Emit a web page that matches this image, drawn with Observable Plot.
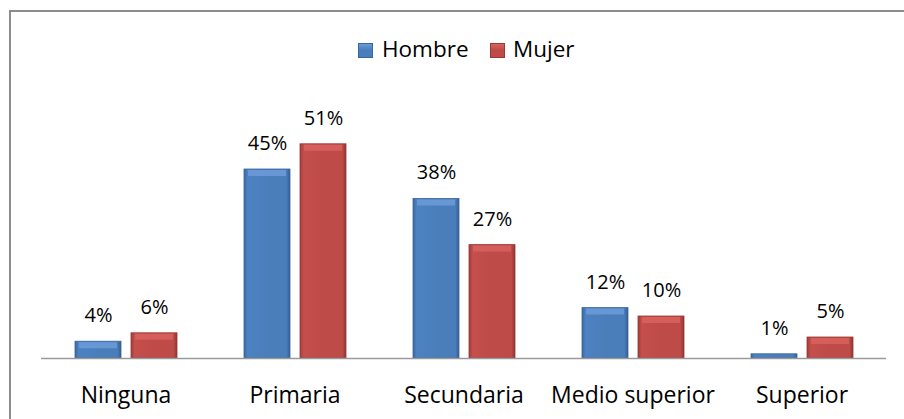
<!DOCTYPE html>
<html><head><meta charset="utf-8">
<script src="https://cdn.jsdelivr.net/npm/d3@7"></script>
<script src="https://cdn.jsdelivr.net/npm/@observablehq/plot@0.6"></script>
<style>
body{margin:0;width:904px;height:419px;overflow:hidden;position:relative;background:#fff;font-family:"Open Sans",sans-serif}
#frame{position:absolute;left:9px;top:10px;width:1000px;height:1000px;border:2px solid #8c8c8c;box-sizing:border-box;pointer-events:none}
#legend{height:65px;position:relative}
.sw{position:absolute;top:43px;width:15px;height:15px;box-sizing:border-box}
.lt{position:absolute;top:34px;font-size:22.5px;line-height:30px;color:#000}
#chart svg{display:block}
</style></head>
<body>
<div id="legend"></div>
<div id="chart"></div>
<div id="frame"></div>
<script>
const categorias = ["Ninguna","Primaria","Secundaria","Medio superior","Superior"];
const series = ["Hombre","Mujer"];
const hombre = [4,45,38,12,1];
const mujer = [6,51,27,10,5];
const colores = ["#4a7ebb","#be4b48"];
const claros = ["#6c9bd9","#d9625e"];

const data = [];
categorias.forEach((c,i)=>{
  data.push({cat:c, sex:"Hombre", value:hombre[i]});
  data.push({cat:c, sex:"Mujer", value:mujer[i]});
});

// legend
const lg = document.getElementById("legend");
const lpos = [[358,382],[490,513]];
series.forEach((s,i)=>{
  const sw=document.createElement("div");sw.className="sw";
  sw.style.left=lpos[i][0]+"px";
  sw.style.background=`linear-gradient(180deg, ${claros[i]} 0%, ${colores[i]} 45%, ${colores[i]} 100%)`;
  sw.style.border="1px solid "+(i==0?"#3a659a":"#9a3a38");
  lg.appendChild(sw);
  const t=document.createElement("div");t.className="lt";t.style.left=lpos[i][1]+"px";t.textContent=s;
  lg.appendChild(t);
});

const plot = Plot.plot({
  width:904, height:354,
  marginTop:41, marginBottom:61, marginLeft:39, marginRight:17,
  style:{fontFamily:"Open Sans, sans-serif", background:"transparent"},
  fx:{domain:categorias, padding:0, axis:null, label:null},
  x:{domain:series, paddingInner:0.18, paddingOuter:0.59, axis:null},
  y:{domain:[0,60], axis:null},
  marks:[
    Plot.barY(data.filter(d=>d.sex==="Hombre"), {fx:"cat", x:"sex", y:"value", fill:"url(#gH)", stroke:"#3a659a", strokeWidth:0.8}),
    Plot.barY(data.filter(d=>d.sex==="Mujer"), {fx:"cat", x:"sex", y:"value", fill:"url(#gM)", stroke:"#963936", strokeWidth:0.8}),
    Plot.tickY(data.filter(d=>d.value>=3), {fx:"cat", x:"sex", y:"value", stroke:d=>d.sex==="Hombre"?claros[0]:claros[1], strokeWidth:6, dy:3.5, insetLeft:4, insetRight:4, strokeOpacity:0.85}),
    Plot.ruleY([0], {stroke:"#9a9a9a", strokeWidth:1.5}),
    Plot.text(data, {fx:"cat", x:"sex", y:"value", text:d=>d.value+"%", dy:-26, fontSize:20, fill:"#000"}),
    Plot.text(categorias, {fx:d=>d, text:d=>d, frameAnchor:"bottom", dy:44, fontSize:23, fill:"#000"})
  ]
});
const ns="http://www.w3.org/2000/svg";
const defs=document.createElementNS(ns,"defs");
[["gH","#3b68a0","#4d82c2","#4a7ebb","#345d92"],["gM","#a03c3a","#c44f4c","#be4b48","#8f3533"]].forEach(([id,a,b,c,d])=>{
  const g=document.createElementNS(ns,"linearGradient");
  g.setAttribute("id",id);g.setAttribute("x1","0");g.setAttribute("x2","1");g.setAttribute("y1","0");g.setAttribute("y2","0");
  [[0,a],[0.08,b],[0.5,c],[0.92,c],[1,d]].forEach(([o,col])=>{
    const s=document.createElementNS(ns,"stop");s.setAttribute("offset",o);s.setAttribute("stop-color",col);g.appendChild(s);
  });
  defs.appendChild(g);
});
plot.insertBefore(defs, plot.firstChild);
document.getElementById("chart").appendChild(plot);
</script>
</body></html>
